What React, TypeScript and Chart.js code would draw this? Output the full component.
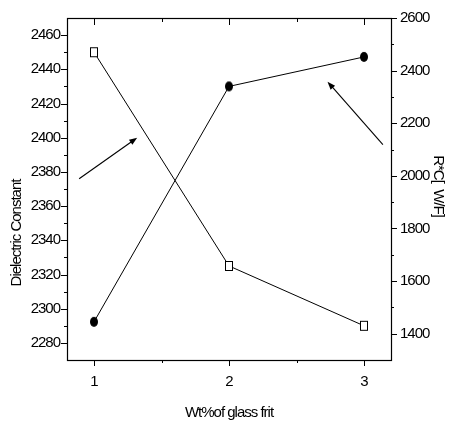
import { useEffect, useRef } from 'react';
import { Chart, registerables } from 'chart.js';

Chart.register(...registerables);

// ---- data ----
const wtPercent = [1, 2, 3];
const dielectricConstant = [2450, 2325, 2290];
const rcValues = [1445, 2340, 2452];

// ---- ticks ----
const xTickValues = [1, 2, 3];
const xMinorTicks = [1.5, 2.5];
const leftTickValues = [2280, 2300, 2320, 2340, 2360, 2380, 2400, 2420, 2440, 2460];
const leftMinorTicks = [2290, 2310, 2330, 2350, 2370, 2390, 2410, 2430, 2450];
const rightTickValues = [1400, 1600, 1800, 2000, 2200, 2400, 2600];
const rightMinorTicks = [1500, 1700, 1900, 2100, 2300, 2500];

// ---- annotation arrows (data coordinates) ----
const arrowLeftFrom = [0.89, 2376];
const arrowLeftTo = [1.32, 2400];
const arrowRightFrom = [3.14, 2119];
const arrowRightTo = [2.73, 2358];

const xTitle = 'Wt%of glass frit';
const leftTitle = 'Dielectric Constant';
const rightTitle = 'R*C[  W/F]';

const FONT = "'Liberation Sans', Arial, sans-serif";
const SPACING = '-1px';

function makeMarker(kind: 'circle' | 'square'): HTMLCanvasElement {
  const c = document.createElement('canvas');
  c.width = 10;
  c.height = 12;
  const g = c.getContext('2d')!;
  if (kind === 'circle') {
    g.beginPath();
    g.ellipse(5, 6, 4, 5, 0, 0, Math.PI * 2);
    g.fillStyle = '#000';
    g.fill();
  } else {
    g.fillStyle = '#fff';
    g.fillRect(1, 1, 8, 10);
    g.strokeStyle = '#000';
    g.lineWidth = 1;
    g.strokeRect(1.5, 1.5, 7, 9);
  }
  return c;
}

function drawArrow(ctx: CanvasRenderingContext2D, x0: number, y0: number, x1: number, y1: number) {
  const ang = Math.atan2(y1 - y0, x1 - x0);
  const len = 8;
  const hw = 3;
  ctx.beginPath();
  ctx.moveTo(x0, y0);
  ctx.lineTo(x1 - Math.cos(ang) * (len - 1), y1 - Math.sin(ang) * (len - 1));
  ctx.stroke();
  ctx.beginPath();
  ctx.moveTo(x1, y1);
  ctx.lineTo(x1 - Math.cos(ang) * len - Math.sin(ang) * hw, y1 - Math.sin(ang) * len + Math.cos(ang) * hw);
  ctx.lineTo(x1 - Math.cos(ang) * len + Math.sin(ang) * hw, y1 - Math.sin(ang) * len - Math.cos(ang) * hw);
  ctx.closePath();
  ctx.fill();
}

const framePlugin = {
  id: 'framePlugin',
  beforeUpdate(chart: any) {
    (chart.ctx as any).letterSpacing = SPACING;
  },
  beforeDraw(chart: any) {
    (chart.ctx as any).letterSpacing = SPACING;
  },
  beforeDatasetsDraw(chart: any) {
    const { ctx, chartArea: a, scales } = chart;
    const x = scales.x, yl = scales.y, yr = scales.y1;
    ctx.save();
    ctx.strokeStyle = '#000';
    ctx.lineWidth = 1.2;
    ctx.strokeRect(a.left + 0.5, a.top + 0.5, a.right - a.left, a.bottom - a.top);
    ctx.lineWidth = 1;
    const hline = (x0: number, x1: number, y: number) => {
      const yy = Math.round(y) + 0.5;
      ctx.beginPath(); ctx.moveTo(x0, yy); ctx.lineTo(x1, yy); ctx.stroke();
    };
    const vline = (xv: number, y0: number, y1: number) => {
      const xx = Math.round(xv) + 0.5;
      ctx.beginPath(); ctx.moveTo(xx, y0); ctx.lineTo(xx, y1); ctx.stroke();
    };
    leftTickValues.forEach(v => hline(a.left - 6, a.left, yl.getPixelForValue(v)));
    leftMinorTicks.forEach(v => hline(a.left - 3, a.left, yl.getPixelForValue(v)));
    rightTickValues.forEach(v => hline(a.right, a.right + 6, yr.getPixelForValue(v)));
    rightMinorTicks.forEach(v => hline(a.right, a.right + 3, yr.getPixelForValue(v)));
    xTickValues.forEach(v => {
      const px = x.getPixelForValue(v);
      vline(px, a.bottom, a.bottom + 6);
      vline(px, a.top, a.top + 7);
    });
    xMinorTicks.forEach(v => {
      const px = x.getPixelForValue(v);
      vline(px, a.bottom, a.bottom + 3);
      vline(px, a.top, a.top + 4);
    });
    ctx.restore();
  },
  afterDraw(chart: any) {
    const { ctx, chartArea: a, scales } = chart;
    const x = scales.x, yl = scales.y, yr = scales.y1;
    ctx.save();
    ctx.strokeStyle = '#000';
    ctx.fillStyle = '#000';
    ctx.lineWidth = 1.1;
    drawArrow(ctx, x.getPixelForValue(arrowLeftFrom[0]), yl.getPixelForValue(arrowLeftFrom[1]),
      x.getPixelForValue(arrowLeftTo[0]), yl.getPixelForValue(arrowLeftTo[1]));
    drawArrow(ctx, x.getPixelForValue(arrowRightFrom[0]), yr.getPixelForValue(arrowRightFrom[1]),
      x.getPixelForValue(arrowRightTo[0]), yr.getPixelForValue(arrowRightTo[1]));

    (ctx as any).letterSpacing = SPACING;
    ctx.font = `15px ${FONT}`;
    ctx.textAlign = 'center';
    ctx.textBaseline = 'middle';
    ctx.fillText(xTitle, (a.left + a.right) / 2, a.bottom + 53);

    ctx.save();
    ctx.translate(a.left - 50, (a.top + a.bottom) / 2 + 44);
    ctx.rotate(-Math.PI / 2);
    ctx.fillText(leftTitle, 0, 0);
    ctx.restore();

    ctx.save();
    ctx.translate(a.right + 47, (a.top + a.bottom) / 2 - 3);
    ctx.rotate(Math.PI / 2);
    ctx.fillText(rightTitle, 0, 0);
    ctx.restore();
    ctx.restore();
  },
};

export default function App() {
  const ref = useRef<HTMLCanvasElement>(null);
  useEffect(() => {
    if (!ref.current) return;
    const squareImg = makeMarker('square');
    const circleImg = makeMarker('circle');
    const tickFont = { family: FONT, size: 15 };
    const chart = new Chart(ref.current, {
      type: 'line',
      data: {
        datasets: [
          {
            label: leftTitle,
            data: wtPercent.map((v, i) => ({ x: v, y: dielectricConstant[i] })),
            yAxisID: 'y',
            borderColor: '#000',
            borderWidth: 1,
            pointStyle: squareImg as any,
            pointRadius: 5,
            fill: false,
            tension: 0,
          },
          {
            label: rightTitle,
            data: wtPercent.map((v, i) => ({ x: v, y: rcValues[i] })),
            yAxisID: 'y1',
            borderColor: '#000',
            borderWidth: 1,
            pointStyle: circleImg as any,
            pointRadius: 5,
            fill: false,
            tension: 0,
          },
        ],
      },
      options: {
        animation: false,
        responsive: false,
        layout: { padding: { top: 16, left: 0, right: 0, bottom: 0 }, autoPadding: false },
        plugins: { legend: { display: false }, tooltip: { enabled: false } },
        scales: {
          x: {
            type: 'linear',
            min: 0.8,
            max: 3.2,
            grid: { display: false, drawTicks: false },
            border: { display: false },
            afterBuildTicks: (s: any) => { s.ticks = xTickValues.map(v => ({ value: v })); },
            afterFit: (s: any) => { s.height = 63; },
            ticks: { color: '#000', font: tickFont, padding: 13, autoSkip: false, maxRotation: 0, callback: (v: any) => String(v) },
          },
          y: {
            type: 'linear',
            position: 'left',
            min: 2270,
            max: 2470,
            grid: { display: false, drawTicks: false },
            border: { display: false },
            afterBuildTicks: (s: any) => { s.ticks = leftTickValues.map(v => ({ value: v })); },
            afterFit: (s: any) => { s.width = 67; },
            ticks: { color: '#000', font: tickFont, padding: 7, autoSkip: false, callback: (v: any) => String(v) },
          },
          y1: {
            type: 'linear',
            position: 'right',
            min: 1300,
            max: 2600,
            grid: { display: false, drawTicks: false },
            border: { display: false },
            afterBuildTicks: (s: any) => { s.ticks = rightTickValues.map(v => ({ value: v })); },
            afterFit: (s: any) => { s.width = 58; },
            ticks: { color: '#000', font: tickFont, padding: 9, autoSkip: false, callback: (v: any) => String(v) },
          },
        },
      },
      plugins: [framePlugin],
    });
    return () => chart.destroy();
  }, []);
  return (
    <div style={{ position: 'absolute', left: 0, top: 0, width: 449, height: 423, background: '#fff' }}>
      <canvas ref={ref} width={449} height={423} style={{ display: 'block' }} />
    </div>
  );
}
